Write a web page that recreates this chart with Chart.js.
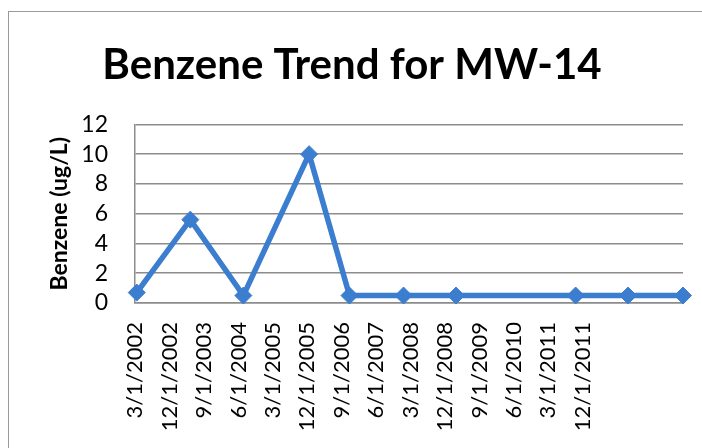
<!DOCTYPE html>
<html>
<head>
<meta charset="utf-8">
<script src="https://cdn.jsdelivr.net/npm/chart.js@4/dist/chart.umd.min.js"></script>
<style>
    html, body { margin: 0; padding: 0; background: #fff; }
    #wrap { position: relative; width: 702px; height: 448px; overflow: hidden; }
    #frame { position: absolute; left: 8px; top: 11px; width: 740px; height: 480px; border: 1px solid #9a9a9a; }
    canvas { position: absolute; left: 0; top: 0; }
</style>
</head>
<body>
<div id="wrap">
    <div id="frame"></div>
    <canvas id="benzeneChart" width="702" height="448"></canvas>
</div>
<script>
    // sampling dates and benzene results, ug/L
    var sampleDates = ['3/15/2002', '5/15/2003', '7/10/2004', '12/15/2005', '11/1/2006',
        '1/5/2008', '2/25/2009', '10/5/2011', '11/25/2012', '2/5/2014'];
    var benzeneValues = [0.7, 5.6, 0.5, 10, 0.5, 0.5, 0.5, 0.5, 0.5, 0.5];

    // x axis labels, every 9 months
    var tickDates = ['3/1/2002', '12/1/2002', '9/1/2003', '6/1/2004', '3/1/2005', '12/1/2005',
        '9/1/2006', '6/1/2007', '3/1/2008', '12/1/2008', '9/1/2009', '6/1/2010', '3/1/2011', '12/1/2011'];

    var yMin = 0, yMax = 12, yStep = 2;

    function toTime(s) {
        var p = s.split('/');
        return Date.UTC(+p[2], +p[0] - 1, +p[1]);
    }

    var blue = '#3b7dcf';
    var gridGray = '#8c8c8c';
    var fontName = 'Lato, "Open Sans", sans-serif';

    var points = sampleDates.map(function (d, i) {
        return { x: toTime(d), y: benzeneValues[i] };
    });

    var benzeneConfig = {
        type: 'line',
        data: {
            datasets: [{
                label: 'Benzene',
                data: points,
                borderColor: blue,
                backgroundColor: blue,
                borderWidth: 5.5,
                tension: 0,
                pointStyle: 'rectRot',
                pointRadius: 8.5,
                pointBackgroundColor: blue,
                pointBorderColor: blue,
                pointBorderWidth: 1,
                clip: false
            }]
        },
        options: {
            responsive: false,
            animation: false,
            layout: { padding: { left: 21, right: 19, top: 0, bottom: 0 } },
            plugins: {
                legend: { display: false },
                tooltip: { enabled: false },
                title: {
                    display: true,
                    text: 'Benzene Trend for MW-14',
                    color: '#000',
                    font: { family: fontName, size: 42, weight: 'bold' },
                    padding: { top: 40, bottom: 34 }
                }
            },
            scales: {
                x: {
                    type: 'linear',
                    min: toTime(tickDates[0]),
                    max: toTime(sampleDates[sampleDates.length - 1]),
                    afterBuildTicks: function (scale) {
                        scale.ticks = tickDates.map(function (d) { return { value: toTime(d) }; });
                    },
                    afterFit: function (scale) { scale.height = 145; },
                    grid: { display: false, drawTicks: false },
                    border: { display: true, color: gridGray, width: 1.5 },
                    ticks: {
                        autoSkip: false,
                        maxRotation: 90,
                        minRotation: 90,
                        padding: 19,
                        color: '#000',
                        font: { family: fontName, size: 22 },
                        callback: function (value, index) { return tickDates[index]; }
                    }
                },
                y: {
                    min: yMin,
                    max: yMax,
                    afterFit: function (scale) { scale.width = 114; },
                    grid: { color: gridGray, lineWidth: 1.5, drawTicks: false },
                    border: { display: true, color: gridGray, width: 1.5 },
                    ticks: {
                        stepSize: yStep,
                        autoSkip: false,
                        padding: 27,
                        color: '#000',
                        font: { family: fontName, size: 23 }
                    },
                    title: {
                        display: true,
                        text: 'Benzene (ug/L)',
                        color: '#000',
                        font: { family: fontName, size: 23, weight: 'bold' },
                        padding: { top: 25, bottom: 0 }
                    }
                }
            }
        }
    };

    var benzeneChart = new Chart(document.getElementById('benzeneChart'), benzeneConfig);
</script>
</body>
</html>
